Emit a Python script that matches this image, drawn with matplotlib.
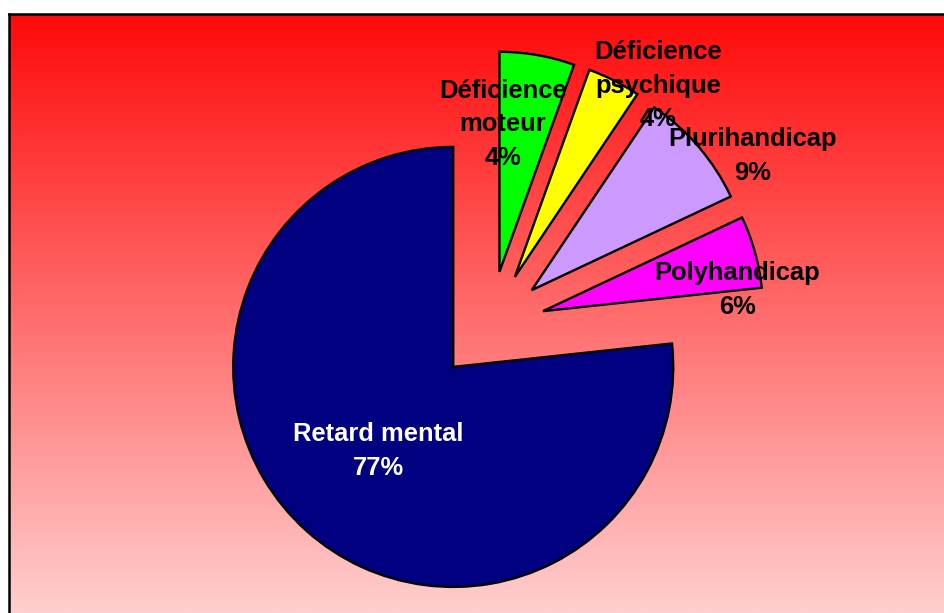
import numpy as np
import matplotlib
matplotlib.use("Agg")
import matplotlib.pyplot as plt

categories = ["Retard mental", "Polyhandicap", "Plurihandicap",
              "Déficience\npsychique", "Déficience\nmoteur"]
sizes = [76.7, 5.3, 8.6, 3.9, 5.5]
pct_labels = ["77%", "6%", "9%", "4%", "4%"]
colors = ["#000080", "#FF00FF", "#CC99FF", "#FFFF00", "#00FF00"]
text_colors = ["white", "black", "black", "black", "black"]

# label anchor points in pie units (radius = 1)
label_pos = [(-0.507, -0.568), (1.125, 0.164), (1.193, 0.773),
             (0.764, 1.091), (0.059, 0.918)]

W, H = 944, 613
fig = plt.figure(figsize=(W / 100, H / 100), dpi=100)
fig.patch.set_facecolor("white")

# gradient background with a black frame on left/top
bg = fig.add_axes([9 / W, 0, 1 - 9 / W, (H - 14) / H])
top = np.array([255, 10, 10]) / 255
bottom = np.array([255, 206, 206]) / 255
t = np.linspace(0, 1, 256)[:, None]
grad = top[None, :] * (1 - t) + bottom[None, :] * t
bg.imshow(grad[:, None, :], aspect="auto", extent=[0, 1, 0, 1])
bg.set_xticks([])
bg.set_yticks([])
for side in ["right", "bottom"]:
    bg.spines[side].set_visible(False)
for side in ["left", "top"]:
    bg.spines[side].set_linewidth(1.8)
    bg.spines[side].set_color("black")

ax = fig.add_axes([0, 0, 1, 1])
ax.patch.set_alpha(0)
r_px = 220
cx, cy = 490, 326
ax.pie(sizes, colors=colors, startangle=90, counterclock=True,
       explode=[0.25] * len(sizes),
       wedgeprops=dict(edgecolor="black", linewidth=1.7))
ax.set_xlim(-cx / r_px, (W - cx) / r_px)
ax.set_ylim(-(H - cy) / r_px, cy / r_px)
ax.set_aspect("auto")
ax.axis("off")

for name, pct, (x, y), tc in zip(categories, pct_labels, label_pos, text_colors):
    ax.text(x, y, f"{name}\n{pct}", ha="center", va="center",
            color=tc, fontsize=18.4, fontweight="bold",
            family=["Liberation Sans", "DejaVu Sans"], linespacing=1.5)

fig.savefig("out.png", dpi=100)
